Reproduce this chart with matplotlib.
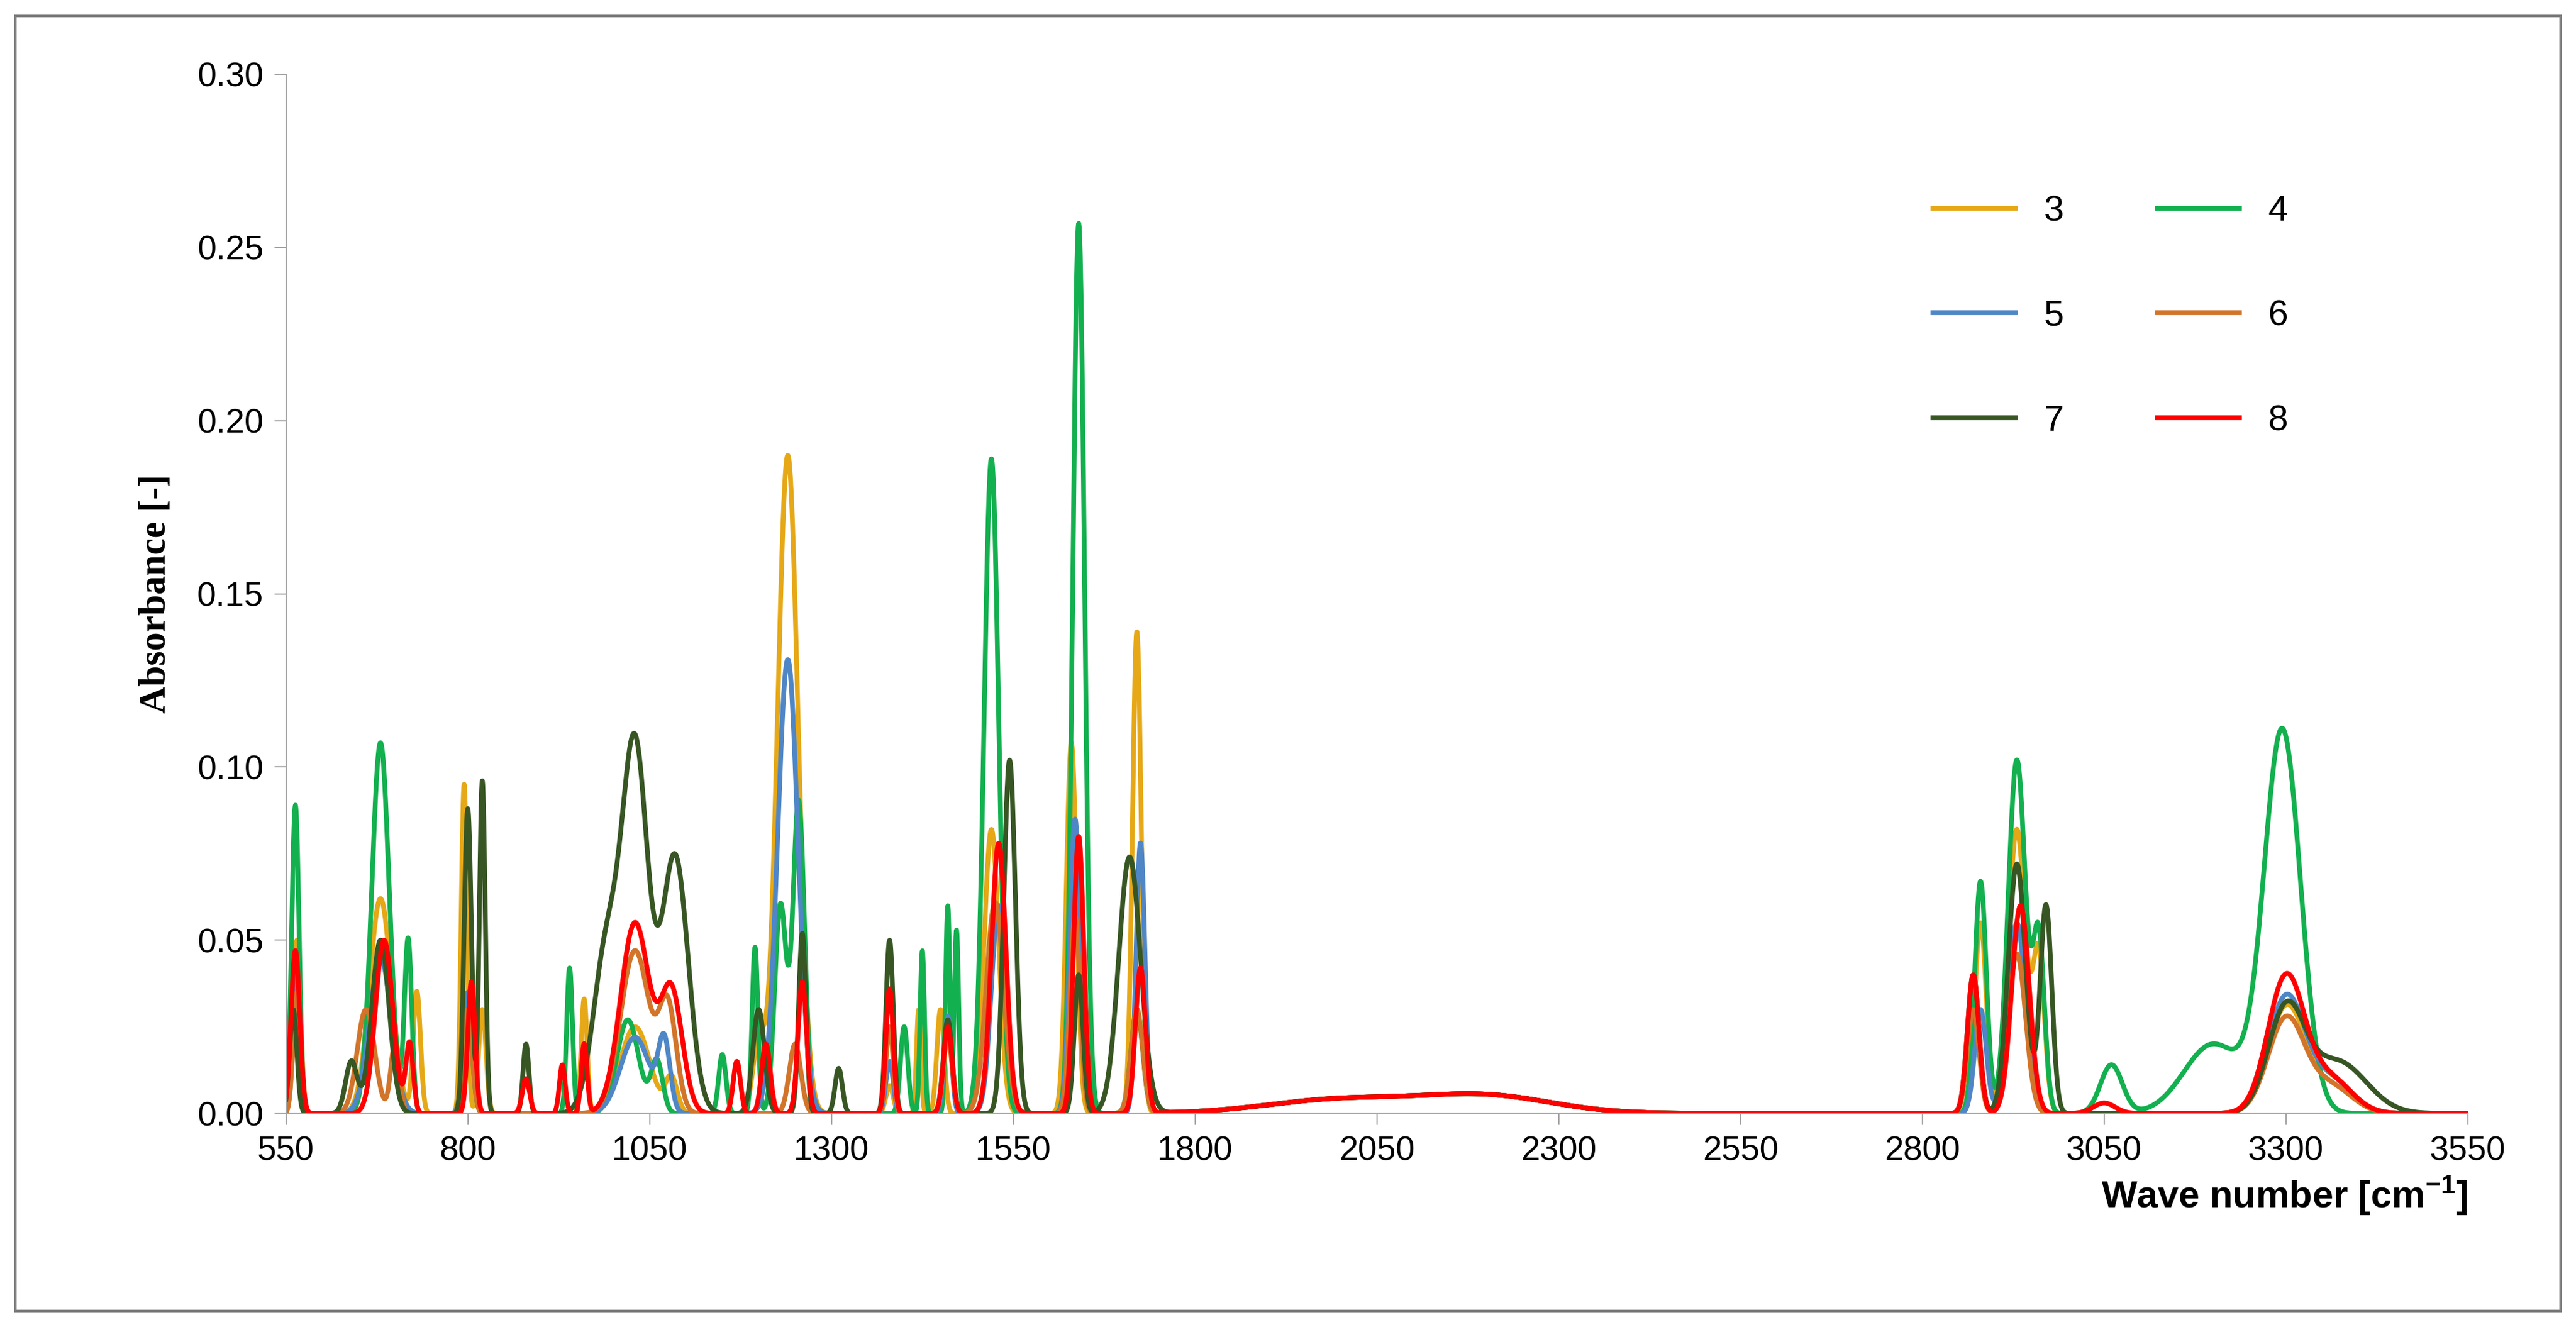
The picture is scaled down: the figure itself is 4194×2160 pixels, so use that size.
import numpy as np
import matplotlib.pyplot as plt
from matplotlib.patches import Rectangle

# Peak tables: (centre cm-1, height, width)
peaks_3 = [(565, .05, 5), (680, .062, 15), (730, .035, 5), (795, .095, 4), (820, .03, 5), (960, .033, 4),
           (1030, .025, 20), (1080, .01, 8), (1200, .02, 8), (1240, .19, 14), (1380, .008, 5), (1420, .03, 3),
           (1450, .03, 5), (1520, .082, 10), (1630, .107, 7), (1720, .139, 6), (2880, .055, 8),
           (2930, .082, 12), (2960, .045, 8), (3300, .03, 25), (3360, .01, 30)]
peaks_4 = [(563, .089, 5), (680, .107, 12), (718, .05, 5), (800, .03, 6), (940, .042, 4), (1020, .027, 15),
           (1060, .015, 8), (1150, .017, 5), (1195, .048, 4), (1230, .06, 8), (1255, .09, 8), (1400, .025, 5),
           (1425, .047, 3), (1460, .06, 3), (1472, .053, 3), (1520, .189, 10), (1640, .257, 8), (1720, .03, 8),
           (2880, .067, 8), (2930, .102, 12), (2960, .05, 8), (3060, .014, 15), (3200, .02, 40), (3295, .11, 25)]
peaks_5 = [(565, .04, 5), (680, .045, 15), (800, .035, 6), (1030, .022, 20), (1070, .02, 8), (1240, .131, 14),
           (1380, .015, 5), (1460, .028, 5), (1530, .06, 10), (1635, .085, 7), (1725, .078, 6), (2880, .03, 8),
           (2930, .055, 12), (3300, .033, 25), (3360, .01, 30)]
peaks_6 = [(565, .035, 5), (660, .03, 12), (700, .02, 6), (800, .03, 6), (1030, .047, 20), (1075, .03, 12),
           (1250, .02, 8), (1380, .025, 5), (1460, .022, 6), (1525, .061, 12), (1635, .057, 7), (1720, .03, 8),
           (2870, .03, 8), (2930, .046, 12), (3300, .027, 25), (3360, .008, 30)]
peaks_7 = [(560, .03, 5), (640, .015, 8), (680, .05, 12), (800, .088, 5), (820, .096, 4), (880, .02, 4),
           (990, .045, 18), (1030, .105, 18), (1085, .074, 18), (1200, .03, 8), (1260, .052, 5), (1310, .013, 5),
           (1380, .05, 5), (1460, .027, 6), (1545, .102, 8), (1640, .04, 6), (1710, .074, 15), (2870, .04, 8),
           (2930, .072, 12), (2970, .06, 8), (3300, .029, 25), (3370, .015, 40)]
peaks_8 = [(563, .047, 6), (685, .05, 12), (720, .02, 5), (805, .038, 5), (880, .01, 5), (930, .014, 4),
           (960, .02, 4), (1030, .055, 20), (1080, .035, 15), (1170, .015, 5), (1210, .02, 6), (1260, .038, 6),
           (1380, .036, 5), (1460, .025, 6), (1530, .078, 10), (1640, .08, 7), (1725, .042, 7), (2870, .04, 8),
           (2935, .06, 12), (3050, .003, 15), (3300, .039, 25), (3360, .01, 30)]
# weak common band between 1800 and 2350
baseline = [(2000, .004, 100), (2200, .005, 90)]

labels = ['3', '4', '5', '6', '7', '8']
colors = ['#E6A817', '#13B04F', '#4F86C6', '#D2742A', '#375623', '#FF0000']
tables = [peaks_3, peaks_4, peaks_5, peaks_6, peaks_7, peaks_8]

x = np.linspace(550, 3550, 6000)


def spectrum(table):
    y = np.zeros_like(x)
    for c, h, w in table + baseline:
        y += h * np.exp(-0.5 * ((x - c) / w) ** 2)
    return y


fig = plt.figure(figsize=(20.97, 10.8), dpi=200)
ax = fig.add_axes([0.111, 0.161, 0.847, 0.783])
lines = []
for lab, col, tab in zip(labels, colors, tables):
    lines += ax.plot(x, spectrum(tab), color=col, lw=2.8, label=lab)

ax.set_xlim(550, 3550)
ax.set_ylim(0, 0.30)
ax.set_xticks(np.arange(550, 3551, 250))
ax.set_yticks(np.arange(0, 0.301, 0.05))
ax.yaxis.set_major_formatter(plt.FormatStrFormatter('%.2f'))
for s in ['top', 'right']:
    ax.spines[s].set_visible(False)
for s in ['left', 'bottom']:
    ax.spines[s].set_color('#A6A6A6')
ax.tick_params(direction='out', length=7, color='#A6A6A6', labelsize=20, pad=6)
for t in ax.get_xticklabels() + ax.get_yticklabels():
    t.set_fontfamily('Liberation Sans')

ax.set_ylabel('Absorbance [-]', fontsize=22, fontweight='bold', family='Liberation Serif', labelpad=14)
ax.set_xlabel('Wave number [cm$^{\\mathregular{-1}}$]', fontsize=22, fontweight='bold',
              family='Liberation Sans', loc='right', labelpad=4)

# row-wise legend order: 3 4 / 5 6 / 7 8
order = [0, 2, 4, 1, 3, 5]
ax.legend([lines[i] for i in order], [labels[i] for i in order], loc='upper left',
          bbox_to_anchor=(0.74, 0.915), ncol=2, frameon=False, labelspacing=2.0,
          handlelength=2.3, columnspacing=2.6, prop={'family': 'Liberation Sans', 'size': 21})

fig.patches.append(Rectangle((0.006, 0.012), 0.988, 0.976, transform=fig.transFigure,
                             fill=False, edgecolor='#7F7F7F', lw=1.5))
fig.savefig('out.png', dpi=200)
